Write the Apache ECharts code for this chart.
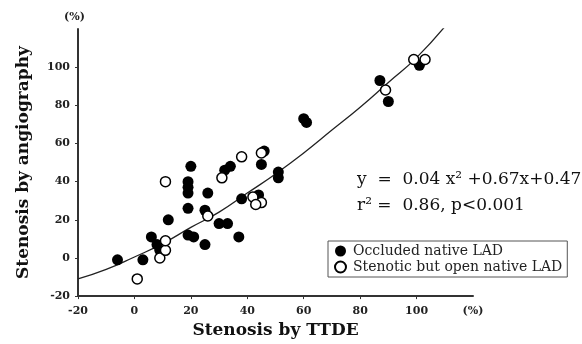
<!DOCTYPE html>
<html>
<head>
<meta charset="utf-8">
<script src="https://cdn.jsdelivr.net/npm/echarts@6/dist/echarts.min.js"></script>
<style>html,body{margin:0;padding:0;background:#fff}#c{width:582px;height:344px}</style>
</head>
<body>
<div id="c"></div>
<script>
// Occluded native LAD (filled)
const occludedX = [-6, 3, 6, 8, 9, 12, 20, 19, 19, 19, 19, 19, 21, 25, 26, 25, 30, 33, 37, 32, 34, 46, 45, 51, 51, 38, 44, 60, 61, 87, 90, 101];
const occludedY = [-1, -1, 11, 7, 4, 20, 48, 40, 37, 34, 26, 12, 11, 7, 34, 25, 18, 18, 11, 46, 48, 56, 49, 45, 42, 31, 33, 73, 71, 93, 82, 101];
// Stenotic but open native LAD (open)
const stenoticX = [1, 9, 11, 11, 11, 26, 31, 38, 45, 42, 45, 43, 89, 99, 103];
const stenoticY = [-11, 0, 4, 9, 40, 22, 42, 53, 55, 32, 29, 28, 88, 104, 104];
// Fitted curve
const curveX = [-20, -10, 0, 10, 20, 30, 40, 50, 60, 70, 80, 90, 100, 111];
const curveY = [-11, -6, 0.5, 7.5, 16, 24, 34, 44, 55, 67, 79, 92, 105, 123];
const tickValues = [-20, 0, 20, 40, 60, 80, 100];
const xLabelValues = [-20, 0, 20, 40, 60, 80, 100, 120];
const seriesNames = ['Occluded native LAD', 'Stenotic but open native LAD'];
const eqLine1 = 'y  =  0.04 x\u00B2 +0.67x+0.47';
const eqLine2 = 'r\u00B2 =  0.86, p<0.001';

const zip = (a, b) => a.map((v, i) => [v, b[i]]);
const serif = '"DejaVu Serif", "Liberation Serif", serif';

const chart = echarts.init(document.getElementById('c'), null, {renderer: 'canvas'});
chart.setOption({
  animation: false,
  backgroundColor: '#fff',
  grid: {left: 78, right: 109, top: 29, bottom: 46, containLabel: false},
  xAxis: {
    type: 'value', min: -20, max: 120, interval: 20,
    name: 'Stenosis by TTDE', nameLocation: 'middle', nameGap: 24,
    nameTextStyle: {fontFamily: serif, fontWeight: 'bold', fontSize: 17, color: '#111'},
    axisLine: {show: true, onZero: false, lineStyle: {color: '#333', width: 2}},
    axisTick: {show: true, length: 3, customValues: tickValues, lineStyle: {color: '#333'}},
    axisLabel: {customValues: xLabelValues, fontFamily: serif, fontWeight: 'bold', fontSize: 11, color: '#222', margin: 10,
      formatter: v => v === 120 ? '(%)' : String(v)},
    splitLine: {show: false}
  },
  yAxis: {
    type: 'value', min: -20, max: 120, interval: 20,
    name: 'Stenosis by angiography', nameLocation: 'middle', nameGap: 46,
    nameTextStyle: {fontFamily: serif, fontWeight: 'bold', fontSize: 17, color: '#111'},
    axisLine: {show: true, onZero: false, lineStyle: {color: '#333', width: 2}},
    axisTick: {show: true, length: 3, customValues: tickValues, lineStyle: {color: '#333'}},
    axisLabel: {customValues: tickValues, fontFamily: serif, fontWeight: 'bold', fontSize: 11, color: '#222', margin: 8},
    splitLine: {show: false}
  },
  legend: {
    orient: 'vertical', left: 328, top: 241,
    data: seriesNames,
    icon: 'circle', itemWidth: 11, itemHeight: 11, itemGap: 2,
    padding: [3, 5, 3, 6],
    borderColor: '#555', borderWidth: 1,
    textStyle: {fontFamily: serif, fontSize: 14, color: '#222', padding: [0, 0, 0, 2]}
  },
  graphic: [
    {type: 'text', left: 357, top: 171, style: {text: eqLine1, font: '17px ' + serif, fill: '#111'}},
    {type: 'text', left: 357, top: 197, style: {text: eqLine2, font: '17px ' + serif, fill: '#111'}},
    {type: 'text', left: 64, top: 12, style: {text: '(%)', font: 'bold 11px ' + serif, fill: '#222'}}
  ],
  series: [
    {
      type: 'line', data: zip(curveX, curveY), smooth: true, symbol: 'none',
      lineStyle: {color: '#222', width: 1.3}, silent: true, z: 1
    },
    {
      name: seriesNames[0], type: 'scatter', data: zip(occludedX, occludedY),
      symbol: 'circle', symbolSize: 11, itemStyle: {color: '#000', opacity: 1}, z: 3
    },
    {
      name: seriesNames[1], type: 'scatter', data: zip(stenoticX, stenoticY),
      symbol: 'circle', symbolSize: 10, itemStyle: {color: '#fff', borderColor: '#000', borderWidth: 1.5, opacity: 1}, z: 4
    }
  ]
});
</script>
</body>
</html>
